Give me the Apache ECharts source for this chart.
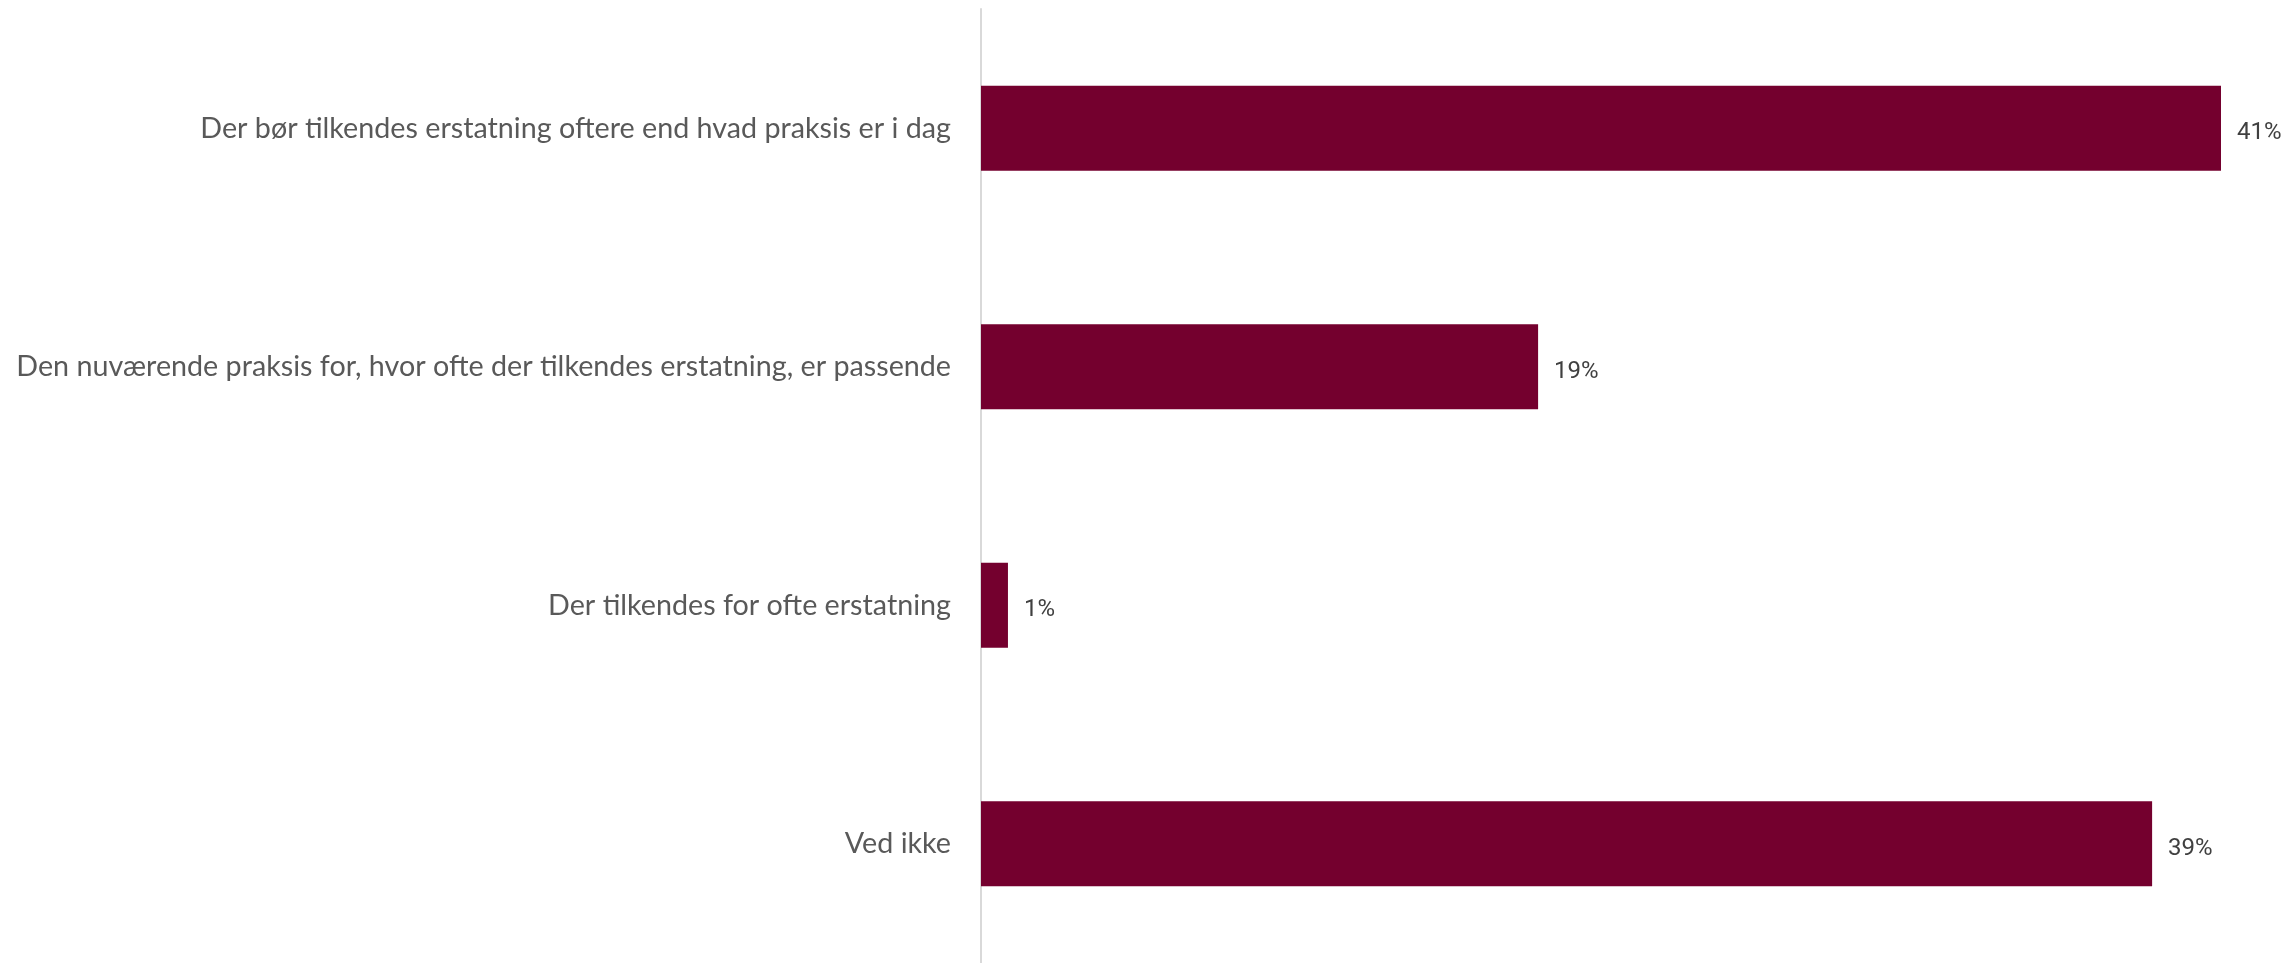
<!DOCTYPE html>
<html>
<head>
<meta charset="utf-8">
<script src="https://cdn.jsdelivr.net/npm/echarts@6/dist/echarts.min.js"></script>
<style>
html,body{margin:0;padding:0;background:#fff;}
#c{width:2288px;height:963px;}
</style>
</head>
<body>
<div id="c"></div>
<script>
const categories = [
  "Der bør tilkendes erstatning oftere end hvad praksis er i dag",
  "Den nuværende praksis for, hvor ofte der tilkendes erstatning, er passende",
  "Der tilkendes for ofte erstatning",
  "Ved ikke"
];
const values = [41.4, 18.6, 0.9, 39.1];

const chart = echarts.init(document.getElementById('c'), null, {renderer: 'canvas'});
chart.setOption({
  backgroundColor: '#ffffff',
  animation: false,
  grid: {left: 981, right: 67, top: 9, bottom: 0, containLabel: false},
  xAxis: {
    type: 'value', min: 0, max: 'dataMax',
    show: false
  },
  yAxis: {
    type: 'category',
    data: categories,
    inverse: true,
    axisLine: {show: true, lineStyle: {color: '#d9d9d9', width: 2}},
    axisTick: {show: false},
    axisLabel: {
      color: '#595959', fontSize: 28.7, fontFamily: 'Lato', margin: 30
    }
  },
  series: [{
    type: 'bar',
    data: values,
    barWidth: 85,
    itemStyle: {color: '#74002e'},
    label: {
      show: true, position: 'right', distance: 16, offset: [0, 5],
      color: '#404040', fontSize: 24, fontFamily: 'Roboto',
      formatter: p => Math.round(p.value) + '%'
    }
  }]
});
</script>
</body>
</html>
